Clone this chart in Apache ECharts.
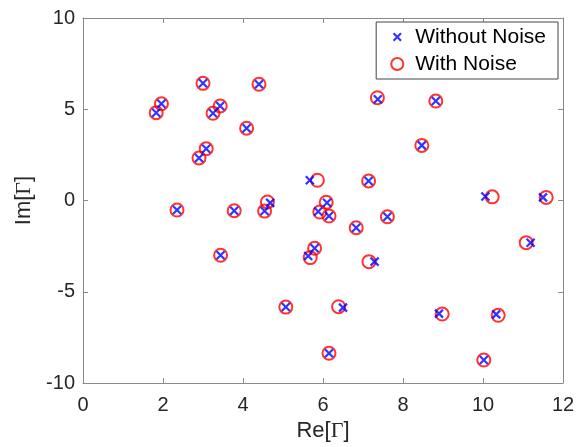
<!DOCTYPE html>
<html>
<head>
<meta charset="utf-8">
<script src="https://cdn.jsdelivr.net/npm/echarts@6/dist/echarts.min.js"></script>
<style>html,body{margin:0;padding:0;background:#fff}#c{width:582px;height:447px}</style>
</head>
<body>
<div id="c"></div>
<script>
// Without Noise (blue crosses)
var xClean = [1.83, 1.96, 3.00, 4.40, 3.25, 3.43, 4.09, 3.08, 2.90, 5.67, 7.37, 8.82, 8.47, 7.14, 10.06, 11.50,
  2.35, 3.78, 4.54, 4.68, 6.10, 5.88, 6.15, 6.83, 7.61, 5.79, 5.63, 3.44, 7.29, 5.07, 6.50, 6.15, 8.90, 10.33, 10.02, 11.19];
var yClean = [4.81, 5.30, 6.42, 6.37, 4.78, 5.18, 3.96, 2.84, 2.33, 1.11, 5.55, 5.45, 3.02, 1.07, 0.22, 0.17,
  -0.52, -0.56, -0.58, -0.13, -0.12, -0.60, -0.85, -1.49, -0.89, -2.62, -3.04, -3.00, -3.35, -5.84, -5.87, -8.37, -6.20, -6.24, -8.74, -2.31];
// With Noise (red circles)
var xNoisy = [1.83, 1.96, 3.00, 4.40, 3.25, 3.43, 4.09, 3.08, 2.90, 5.86, 7.36, 8.82, 8.47, 7.14, 10.23, 11.58,
  2.35, 3.78, 4.54, 4.61, 6.08, 5.92, 6.15, 6.83, 7.61, 5.79, 5.68, 3.44, 7.15, 5.07, 6.39, 6.15, 8.98, 10.38, 10.02, 11.08];
var yNoisy = [4.81, 5.30, 6.42, 6.37, 4.78, 5.18, 3.96, 2.84, 2.33, 1.11, 5.63, 5.45, 3.02, 1.07, 0.20, 0.17,
  -0.52, -0.56, -0.58, -0.08, -0.10, -0.63, -0.85, -1.49, -0.89, -2.62, -3.13, -3.00, -3.35, -5.84, -5.82, -8.37, -6.22, -6.29, -8.74, -2.31];
var seriesNames = ['Without Noise', 'With Noise'];
var xTicks = {min: 0, max: 12, interval: 2};
var yTicks = {min: -10, max: 10, interval: 5};

function pairs(xs, ys) { return xs.map(function (v, i) { return [v, ys[i]]; }); }

var axisGray = '#8a8a8a';
var textCol = '#262626';
var crossPath = 'path://M0,0L10,10M0,10L10,0';
var crossLegendPath = 'path://M-3,-3L-3,-3M0,0L10,10M0,10L10,0M13,13L13,13';
var crossStyle = {color: 'rgba(0,0,0,0)', borderColor: '#0000ff', borderWidth: 2.2};
var circleStyle = {color: 'rgba(0,0,0,0)', borderColor: '#ff0000', borderWidth: 2};

var chart = echarts.init(document.getElementById('c'), null, {renderer: 'canvas'});
var baseAxis = {
  axisLine: {show: true, onZero: false, lineStyle: {color: axisGray, width: 1}},
  axisTick: {show: true, inside: true, length: 5, lineStyle: {color: axisGray}},
  splitLine: {show: false}
};
chart.setOption({
  animation: false,
  backgroundColor: '#fff',
  grid: {left: 83, right: 19, top: 18, bottom: 64},
  legend: {
    orient: 'vertical',
    right: 24, top: 22,
    backgroundColor: '#fff',
    borderColor: '#444', borderWidth: 1,
    padding: [4, 12, 4, 14],
    itemWidth: 12, itemHeight: 12, itemGap: 5,
    textStyle: {fontFamily: 'Liberation Sans, Arial, sans-serif', fontSize: 21, color: '#000', lineHeight: 22, padding: [0, 0, 0, 7]},
    data: [
      {name: seriesNames[0], icon: crossLegendPath, itemStyle: crossStyle},
      {name: seriesNames[1], icon: 'circle', itemStyle: circleStyle}
    ]
  },
  xAxis: [
    Object.assign({}, baseAxis, {
      type: 'value', position: 'bottom', min: xTicks.min, max: xTicks.max, interval: xTicks.interval,
      axisLabel: {color: textCol, fontSize: 20, margin: 12, fontFamily: 'Liberation Sans, Arial, sans-serif'},
      name: 'Re[{g|Γ}]', nameLocation: 'middle', nameGap: 34,
      nameTextStyle: {color: textCol, fontSize: 22, fontFamily: 'Liberation Sans, Arial, sans-serif',
        rich: {g: {fontFamily: 'Liberation Serif, Times New Roman, serif', fontSize: 22, color: textCol}}}
    }),
    Object.assign({}, baseAxis, {
      type: 'value', position: 'top', min: xTicks.min, max: xTicks.max, interval: xTicks.interval,
      axisLabel: {show: false}
    })
  ],
  yAxis: [
    Object.assign({}, baseAxis, {
      type: 'value', position: 'left', min: yTicks.min, max: yTicks.max, interval: yTicks.interval,
      axisLabel: {color: textCol, fontSize: 20, margin: 8, fontFamily: 'Liberation Sans, Arial, sans-serif'},
      name: 'Im[{g|Γ}]', nameLocation: 'middle', nameGap: 43,
      nameTextStyle: {color: textCol, fontSize: 22, fontFamily: 'Liberation Sans, Arial, sans-serif',
        rich: {g: {fontFamily: 'Liberation Serif, Times New Roman, serif', fontSize: 22, color: textCol}}}
    }),
    Object.assign({}, baseAxis, {
      type: 'value', position: 'right', min: yTicks.min, max: yTicks.max, interval: yTicks.interval,
      axisLabel: {show: false}
    })
  ],
  series: [
    {
      name: seriesNames[1], type: 'scatter', xAxisIndex: 0, yAxisIndex: 0,
      symbol: 'circle', symbolSize: 13, itemStyle: circleStyle, z: 2,
      data: pairs(xNoisy, yNoisy)
    },
    {
      name: seriesNames[0], type: 'scatter', xAxisIndex: 0, yAxisIndex: 0,
      symbol: crossPath, symbolSize: 8, itemStyle: crossStyle, z: 3,
      data: pairs(xClean, yClean)
    }
  ]
});
</script>
</body>
</html>
